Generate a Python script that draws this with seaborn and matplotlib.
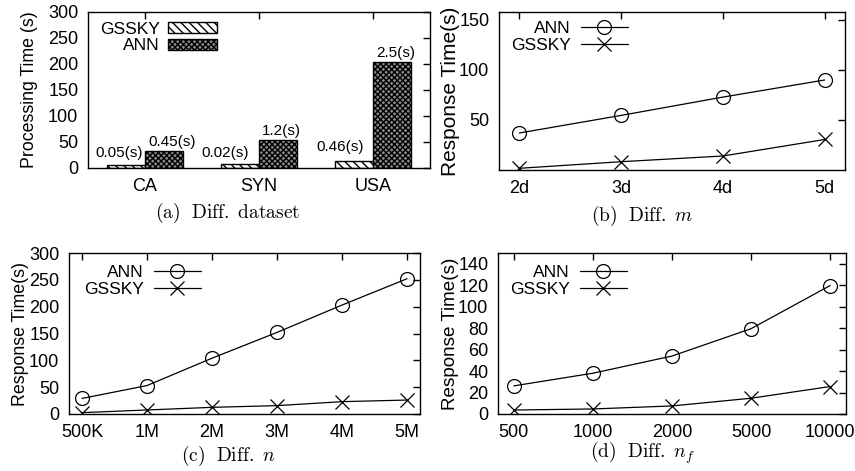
import numpy as np
import pandas as pd
import matplotlib
matplotlib.use("Agg")
import matplotlib.pyplot as plt
import seaborn as sns
from matplotlib.patches import Patch

# ---------------- data ----------------
datasets = ["CA", "SYN", "USA"]
methods = ["GSSKY", "ANN"]
gssky_proc = [5, 7.5, 13.5]
ann_proc = [33, 54, 203]
gssky_text = ["0.05(s)", "0.02(s)", "0.46(s)"]
ann_text = ["0.45(s)", "1.2(s)", "2.5(s)"]

m_labels = ["2d", "3d", "4d", "5d"]
m_ann = [37, 54.6, 72.9, 90]
m_gssky = [1.7, 8.3, 14, 30.5]

n_labels = ["500K", "1M", "2M", "3M", "4M", "5M"]
n_ann = [29, 53, 104, 152, 203, 252]
n_gssky = [2.5, 7.5, 12.4, 15.6, 23, 26]

nf_labels = ["500", "1000", "2000", "5000", "10000"]
nf_ann = [26.2, 38, 54, 79.5, 119.7]
nf_gssky = [3.7, 4.7, 7.5, 14.7, 25.6]

# ---------------- style ----------------
sns.set_theme(style="white")
plt.rcParams["font.family"] = ["Liberation Sans", "DejaVu Sans"]
plt.rcParams["mathtext.fontset"] = "cm"
plt.rcParams["hatch.linewidth"] = 1.0
plt.rcParams["axes.edgecolor"] = "black"
plt.rcParams["axes.linewidth"] = 1.0
for k in ["text.color", "axes.labelcolor", "xtick.color", "ytick.color"]:
    plt.rcParams[k] = "black"

W, H = 855, 471
fig = plt.figure(figsize=(W / 100, H / 100), dpi=100)


def ax_px(l, t, r, b):
    return fig.add_axes([l / W, 1 - b / H, (r - l) / W, (b - t) / H])


def style_ax(ax):
    ax.tick_params(direction="in", top=True, right=True, length=5, width=1,
                   labelsize=13, colors="black")
    ax.tick_params(axis="x", pad=7)
    ax.tick_params(axis="y", pad=7)
    for s in ax.spines.values():
        s.set_visible(True)
        s.set_color("black")
        s.set_linewidth(1.0)


def px_anchor(x, y):
    return (x / W, 1 - y / H)


# ---------------- (a) bars ----------------
axa = ax_px(88, 12, 430, 168)
df = pd.DataFrame({
    "dataset": datasets * 2,
    "method": ["GSSKY"] * 3 + ["ANN"] * 3,
    "time": gssky_proc + ann_proc,
})
sns.barplot(data=df, x="dataset", y="time", hue="method", hue_order=methods,
            order=datasets, palette=["white", "#8a8a8a"], width=0.67,
            edgecolor="black", linewidth=1.0, legend=False, ax=axa)
hatches = ["\\" * 4, "x" * 6]
faces = ["white", "#8a8a8a"]
for cont, h, fc in zip(axa.containers, hatches, faces):
    for p in cont:
        p.set_hatch(h)
        p.set_facecolor(fc)
        p.set_edgecolor("black")
axa.set_xlim(-0.5, 2.5)
axa.set_ylim(0, 300)
axa.set_yticks(np.arange(0, 301, 50))
axa.set_xlabel("")
axa.set_ylabel("Processing Time (s)", fontsize=12.8)
axa.yaxis.set_label_coords(-0.146, 0.5)
style_ax(axa)

# value labels (offsets in pixels, styling only)
offs = [[(-7, 5), (-15, 4), (-14, 7)], [(8, 2), (3, 2), (3.5, 2.5)]]
texts = [gssky_text, ann_text]
for ci, cont in enumerate(axa.containers):
    for bi, p in enumerate(cont):
        cx = p.get_x() + p.get_width() / 2
        top = p.get_height()
        dx, dy = offs[ci][bi]
        axa.annotate(texts[ci][bi], xy=(cx, top), xytext=(dx * 0.72, dy * 0.72),
                     textcoords="offset points", ha="center", va="bottom",
                     fontsize=11, color="black")

handles = [Patch(facecolor=faces[0], edgecolor="black", hatch=hatches[0], lw=1.0),
           Patch(facecolor=faces[1], edgecolor="black", hatch=hatches[1], lw=1.0)]
axa.legend(handles, methods, loc="upper left", bbox_to_anchor=px_anchor(91, 13),
           bbox_transform=fig.transFigure, frameon=False, markerfirst=False,
           fontsize=12.5, borderpad=0, handlelength=2.8, handleheight=0.55,
           handletextpad=0.5, labelspacing=0.1)


# ---------------- line panels ----------------
def line_panel(box, labels, ann, gssky, ylim, yticks, ylabel, ylsize, ylx, leg_xy):
    ax = ax_px(*box)
    pos = np.arange(len(labels))
    sns.lineplot(x=pos, y=ann, ax=ax, color="black", lw=0.9, marker="o",
                 markersize=10, markerfacecolor="none", markeredgecolor="black",
                 markeredgewidth=0.9, label="ANN", sort=False)
    sns.lineplot(x=pos, y=gssky, ax=ax, color="black", lw=0.9, marker="x",
                 markersize=10, markeredgecolor="black", markeredgewidth=0.9,
                 label="GSSKY", sort=False)
    ax.set_xticks(pos)
    ax.set_xticklabels(labels)
    ax.set_xlim(-0.2, len(labels) - 1 + 0.2)
    ax.set_ylim(*ylim)
    ax.set_yticks(yticks)
    ax.set_ylabel(ylabel, fontsize=ylsize)
    ax.yaxis.set_label_coords(ylx, 0.5)
    ax.set_xlabel("")
    style_ax(ax)
    ax.legend(loc="upper left", bbox_to_anchor=px_anchor(*leg_xy),
              bbox_transform=fig.transFigure, frameon=False, markerfirst=False,
              fontsize=12.5, borderpad=0, handlelength=2.7, handletextpad=0.6,
              labelspacing=0.1)
    return ax


line_panel((499, 12, 845, 170), m_labels, m_ann, m_gssky, (0, 158),
           [50, 100, 150], "Response Time(s)", 15, -0.113, (502, 12))
line_panel((69, 253, 420, 414), n_labels, n_ann, n_gssky, (0, 300),
           np.arange(0, 301, 50), "Response Time(s)", 12.8, -0.114, (75, 256))
line_panel((498, 253, 846, 414), nf_labels, nf_ann, nf_gssky, (0, 150),
           np.arange(0, 141, 20), "Response Time(s)", 13.6, -0.111, (501, 256))

# ---------------- captions ----------------
caps = [
    (228, 218, r"$\mathrm{(a)\ \ Diff.\ dataset}$"),
    (642, 221, r"$\mathrm{(b)\ \ Diff.\ }m$"),
    (228, 461, r"$\mathrm{(c)\ \ Diff.\ }n$"),
    (643, 458, r"$\mathrm{(d)\ \ Diff.\ }n_f$"),
]
for x, y, t in caps:
    fig.text(x / W, 1 - y / H, t, ha="center", va="baseline", fontsize=14)

fig.savefig("out.png", dpi=100)
